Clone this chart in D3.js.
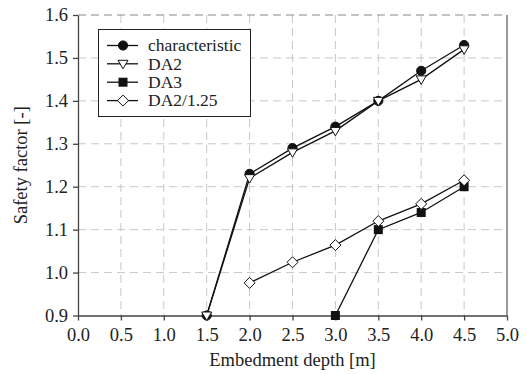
<!DOCTYPE html>
<html><head><meta charset="utf-8">
<script src="https://cdn.jsdelivr.net/npm/d3@7"></script>
<style>body{margin:0;background:#fff;} svg{display:block;}</style>
</head><body>
<svg id="c" width="527" height="374" font-family="Liberation Serif"></svg>
<script>
const xTicks = [0.0,0.5,1.0,1.5,2.0,2.5,3.0,3.5,4.0,4.5,5.0];
const yTicks = [0.9,1.0,1.1,1.2,1.3,1.4,1.5,1.6];
const seriesNames = ["characteristic","DA2","DA3","DA2/1.25"];
const charX = [1.5,2.0,2.5,3.0,3.5,4.0,4.5];
const charY = [0.9,1.23,1.29,1.34,1.40,1.47,1.53];
const da2X = [1.5,2.0,2.5,3.0,3.5,4.0,4.5];
const da2Y = [0.9,1.22,1.28,1.33,1.40,1.45,1.52];
const da3X = [3.0,3.5,4.0,4.5];
const da3Y = [0.9,1.10,1.14,1.20];
const da125X = [2.0,2.5,3.0,3.5,4.0,4.5];
const da125Y = [0.976,1.024,1.064,1.12,1.16,1.215];

const svg = d3.select("#c");
const L=78, R=507, T=15, B=315.5;
const x = d3.scaleLinear().domain([0,5]).range([L,R]);
const y = d3.scaleLinear().domain([0.9,1.6]).range([B,T]);
const FONT = "Liberation Serif";
const FS = 18.5;
const LFS = 17.5;

const g = svg.append("g");
xTicks.slice(1,-1).forEach(v=>g.append("line").attr("x1",x(v)).attr("x2",x(v)).attr("y1",T).attr("y2",B)
  .attr("stroke","#c8c8c8").attr("stroke-dasharray","8,5").attr("stroke-width",1));
yTicks.slice(1,-1).forEach(v=>g.append("line").attr("x1",L).attr("x2",R).attr("y1",y(v)).attr("y2",y(v))
  .attr("stroke","#c8c8c8").attr("stroke-dasharray","8,5").attr("stroke-width",1));
g.append("line").attr("x1",L).attr("x2",R).attr("y1",T).attr("y2",T).attr("stroke","#888").attr("stroke-dasharray","8,5").attr("stroke-width",1.2);
g.append("line").attr("x1",R).attr("x2",R).attr("y1",T).attr("y2",B).attr("stroke","#777").attr("stroke-width",1.5);

const xa = svg.append("g").attr("transform",`translate(0,${B})`)
  .call(d3.axisBottom(x).tickValues(xTicks).tickFormat(d3.format(".1f")).tickSize(5).tickSizeOuter(0));
const ya = svg.append("g").attr("transform",`translate(${L},0)`)
  .call(d3.axisLeft(y).tickValues(yTicks).tickFormat(d3.format(".1f")).tickSize(5).tickSizeOuter(0));
[xa,ya].forEach(a=>{
  a.attr("font-family",FONT).attr("font-size",FS);
  a.selectAll("path,line").attr("stroke","#444").attr("stroke-width",1.3);
  a.selectAll("text").attr("font-family",FONT).attr("font-size",FS).attr("fill","#222");
});
xa.selectAll("text").attr("y",25).attr("dy",0);
ya.selectAll("text").attr("x",-10).attr("dy","0.32em");

svg.append("text").attr("x",(L+R)/2).attr("y",366).attr("text-anchor","middle")
  .attr("font-family",FONT).attr("font-size",FS).attr("fill","#222").text("Embedment depth [m]");
svg.append("text").attr("transform",`translate(27,${(T+B)/2}) rotate(-90)`).attr("text-anchor","middle")
  .attr("font-family",FONT).attr("font-size",FS).attr("fill","#222").text("Safety factor [-]");

const line = d3.line().x(d=>x(d[0])).y(d=>y(d[1]));
const zip = (a,b)=>a.map((v,i)=>[v,b[i]]);
const series = [
  {name:seriesNames[0], data:zip(charX,charY), m:"circle"},
  {name:seriesNames[1], data:zip(da2X,da2Y), m:"tri"},
  {name:seriesNames[2], data:zip(da3X,da3Y), m:"square"},
  {name:seriesNames[3], data:zip(da125X,da125Y), m:"diamond"}
];
function marker(sel, type, cx, cy){
  if(type==="circle") sel.append("circle").attr("cx",cx).attr("cy",cy).attr("r",4.6).attr("fill","#111").attr("stroke","#111");
  else if(type==="tri") sel.append("path").attr("d",`M${cx-5},${cy-3.5}L${cx+5},${cy-3.5}L${cx},${cy+5}Z`).attr("fill","#fff").attr("stroke","#111").attr("stroke-width",1);
  else if(type==="square") sel.append("rect").attr("x",cx-4.5).attr("y",cy-4.5).attr("width",9).attr("height",9).attr("fill","#111");
  else sel.append("path").attr("d",`M${cx},${cy-5.5}L${cx+5.5},${cy}L${cx},${cy+5.5}L${cx-5.5},${cy}Z`).attr("fill","#fff").attr("stroke","#111").attr("stroke-width",1);
}
series.forEach(s=>{
  svg.append("path").datum(s.data).attr("d",line).attr("fill","none").attr("stroke","#111").attr("stroke-width",1.3);
});
series.forEach(s=>{
  const gg = svg.append("g");
  s.data.forEach(d=>marker(gg,s.m,x(d[0]),y(d[1])));
});

const lg = svg.append("g");
lg.append("rect").attr("x",98.5).attr("y",29.5).attr("width",152).attr("height",87).attr("fill","#fff").attr("stroke","#222").attr("stroke-width",1);
const ly = [45.5,63.8,82.2,100.6];
series.forEach((s,i)=>{
  lg.append("line").attr("x1",107).attr("x2",138).attr("y1",ly[i]).attr("y2",ly[i]).attr("stroke","#111").attr("stroke-width",1.3);
  marker(lg,s.m,123,ly[i]);
  lg.append("text").attr("x",148).attr("y",ly[i]).attr("dy","0.33em").attr("font-family",FONT).attr("font-size",LFS).attr("fill","#222").text(s.name);
});
</script>
</body></html>
